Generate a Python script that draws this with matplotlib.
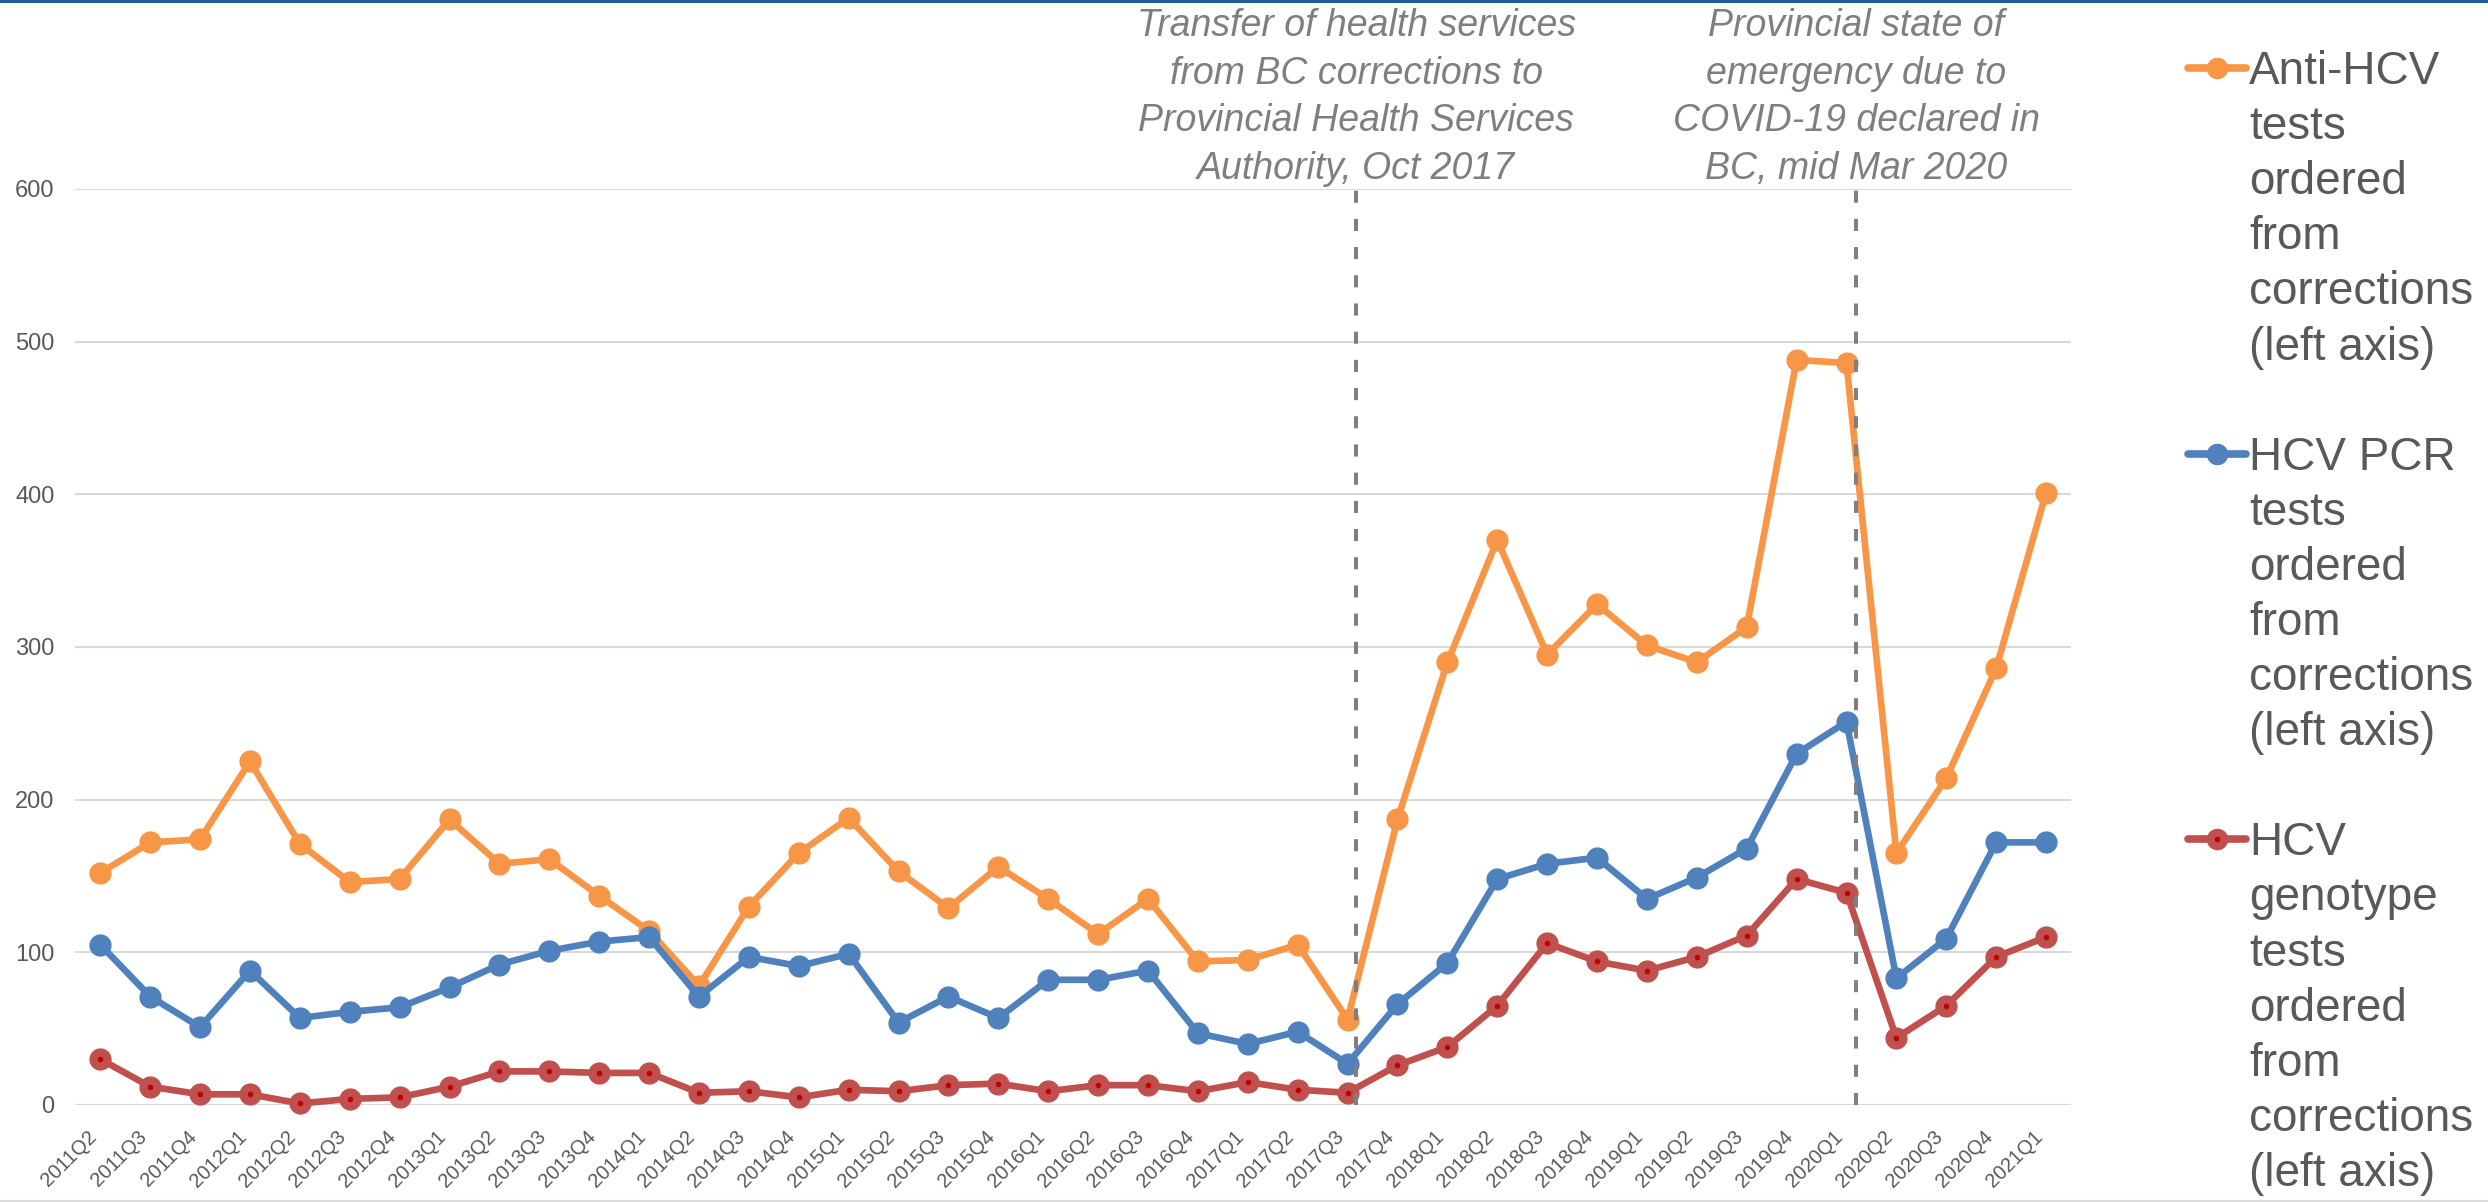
import matplotlib
matplotlib.use("Agg")
import matplotlib.pyplot as plt
from matplotlib.lines import Line2D

# quarters 2011Q2 .. 2021Q1
quarters = ['2011Q2', '2011Q3', '2011Q4',
            '2012Q1', '2012Q2', '2012Q3', '2012Q4',
            '2013Q1', '2013Q2', '2013Q3', '2013Q4',
            '2014Q1', '2014Q2', '2014Q3', '2014Q4',
            '2015Q1', '2015Q2', '2015Q3', '2015Q4',
            '2016Q1', '2016Q2', '2016Q3', '2016Q4',
            '2017Q1', '2017Q2', '2017Q3', '2017Q4',
            '2018Q1', '2018Q2', '2018Q3', '2018Q4',
            '2019Q1', '2019Q2', '2019Q3', '2019Q4',
            '2020Q1', '2020Q2', '2020Q3', '2020Q4',
            '2021Q1']

anti_hcv = [152, 172, 174, 225, 171, 146, 148, 187, 158, 161, 137, 114, 78, 130, 165,
            188, 153, 129, 156, 135, 112, 135, 94, 95, 105, 56, 187, 290, 370, 295,
            328, 301, 290, 313, 488, 486, 165, 214, 286, 401]
hcv_pcr = [105, 71, 51, 88, 57, 61, 64, 77, 92, 101, 107, 110, 71, 97, 91,
           99, 54, 71, 57, 82, 82, 88, 47, 40, 48, 27, 66, 93, 148, 158,
           162, 135, 149, 168, 230, 251, 83, 109, 172, 172]
genotype = [30, 12, 7, 7, 1, 4, 5, 12, 22, 22, 21, 21, 8, 9, 5,
            10, 9, 13, 14, 9, 13, 13, 9, 15, 10, 8, 26, 38, 65, 106,
            94, 88, 97, 111, 148, 139, 44, 65, 97, 110]

labels = [['Anti-HCV', 'tests', 'ordered', 'from', 'corrections', '(left axis)'],
          ['HCV PCR', 'tests', 'ordered', 'from', 'corrections', '(left axis)'],
          ['HCV', 'genotype', 'tests', 'ordered', 'from', 'corrections', '(left axis)']]

# event markers (position on the quarter axis) and their notes
events_x = [25.17, 35.2]
events_txt = ['Transfer of health services\nfrom BC corrections to\nProvincial Health Services\nAuthority, Oct 2017',
              'Provincial state of\nemergency due to\nCOVID-19 declared in\nBC, mid Mar 2020']

ORANGE = '#F79646'
BLUE = '#4F81BD'
RED = '#C0504D'
TXT = '#595959'

plt.rcParams['font.family'] = ['Liberation Sans', 'DejaVu Sans']

W, H = 2488, 1202
fig = plt.figure(figsize=(W / 100, H / 100), dpi=100)
ax = fig.add_axes([0.0303, 0.0807, 0.8021, 0.7621])

x = list(range(len(quarters)))
lw = 4.8
ms = 15
ax.plot(x, anti_hcv, color=ORANGE, lw=lw, marker='o', ms=ms, clip_on=False, zorder=3)
ax.plot(x, hcv_pcr, color=BLUE, lw=lw, marker='o', ms=ms, clip_on=False, zorder=4)
ax.plot(x, genotype, color=RED, lw=lw, marker='o', ms=ms, clip_on=False, zorder=5)
ax.plot(x, genotype, ls='none', marker='o', ms=3, color='#C00000', clip_on=False, zorder=6)

for ex in events_x:
    ax.plot([ex, ex], [0, 600], color='#7F7F7F', lw=2.9, ls=(0, (3, 4)), zorder=7, clip_on=False)

ax.set_xlim(-0.5, len(quarters) - 0.5)
ax.set_ylim(0, 600)
ax.set_yticks(range(0, 601, 100))
ax.set_xticks(x)
ax.set_xticklabels(quarters, rotation=45, ha='right', va='top', rotation_mode='default',
                   fontsize=14.5, color=TXT)
ax.tick_params(axis='both', length=0)
ax.tick_params(axis='y', labelsize=17, labelcolor=TXT, pad=15)
ax.tick_params(axis='x', pad=16)
ax.grid(axis='y', color='#D9D9D9', lw=1.5)
ax.set_axisbelow(True)
for s in ax.spines.values():
    s.set_visible(False)

# annotations above the dashed lines
for ex, txt in zip(events_x, events_txt):
    ax.text(ex, 1.002, txt, transform=ax.get_xaxis_transform(), ha='center', va='bottom',
            fontsize=27, style='italic', color='#7F7F7F', linespacing=1.42)

# legend drawn by hand: one line of text per row, marker on the first row
colors = [ORANGE, BLUE, RED]
first_y = 68.0      # px from top, centre of the first legend row
row_h = 55.1        # px between rows
row = 0
for c, lab in zip(colors, labels):
    yc = 1 - (first_y + row * row_h) / H
    fig.add_artist(Line2D([2188 / W, 2246 / W], [yc, yc], transform=fig.transFigure,
                          color=c, lw=5.5, solid_capstyle='round'))
    fig.add_artist(Line2D([2217 / W], [yc], transform=fig.transFigure, color=c,
                          marker='o', ms=14.5, ls='none'))
    if c == RED:
        fig.add_artist(Line2D([2217 / W], [yc], transform=fig.transFigure, color='#C00000',
                              marker='o', ms=3, ls='none'))
    for line in lab:
        yb = 1 - (first_y + row * row_h + 16) / H
        fig.text(2249 / W, yb, line, ha='left', va='baseline', fontsize=33, color=TXT)
        row += 1
    row += 1

# slide frame bits
fig.add_artist(Line2D([0, 1], [0.9992, 0.9992], transform=fig.transFigure, color='#1F5C99', lw=2.2))
fig.add_artist(Line2D([0, 1], [0.0008, 0.0008], transform=fig.transFigure, color='#DDDDDD', lw=1.5))

fig.savefig('out.png', dpi=100)
